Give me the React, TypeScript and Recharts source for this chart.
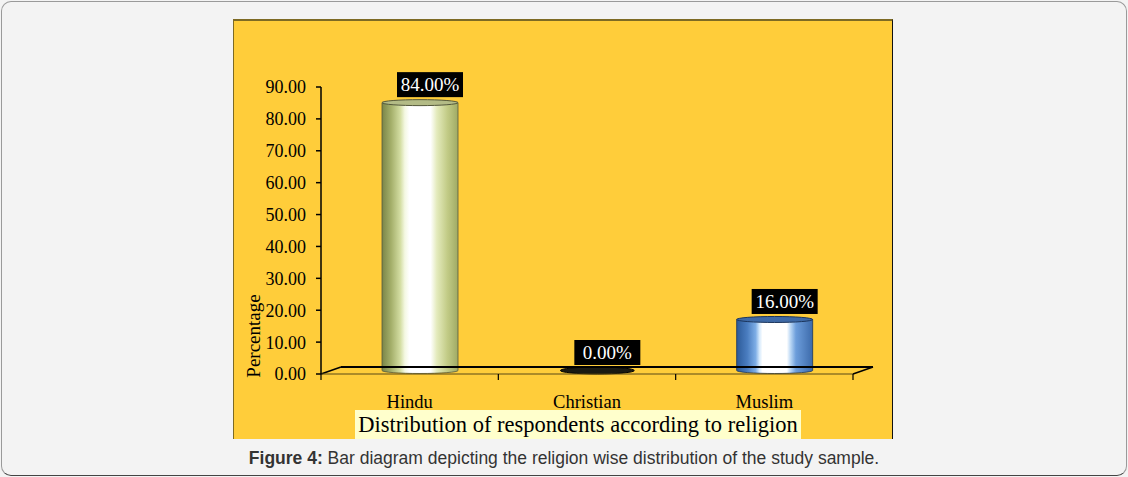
import React from 'react';
import { BarChart, Bar, XAxis, YAxis, ReferenceLine, LabelList } from 'recharts';

const categories: string[] = ['Hindu', 'Christian', 'Muslim'];
const percentages: number[] = [84, 0, 16];
const yTicks: number[] = [0, 10, 20, 30, 40, 50, 60, 70, 80, 90];
const yAxisTitle = 'Percentage';
const xAxisTitle = 'Distribution of respondents according to religion';
const captionBold = 'Figure 4:';
const captionText = ' Bar diagram depicting the religion wise distribution of the study sample.';

const data = categories.map((c, i) => ({ category: c, value: percentages[i] }));

const SERIF = '"Liberation Serif", "Times New Roman", serif';
const DX = 20;
const DY = 7;

type Stop = [number, string];
const barStyles: { stops: Stop[]; top: string; rim: string }[] = [
  {
    stops: [
      [0, '#7a8548'],
      [0.12, '#a4af6a'],
      [0.24, '#d3dda2'],
      [0.3, '#f4f8e2'],
      [0.36, '#ffffff'],
      [0.64, '#ffffff'],
      [0.72, '#e4ebbd'],
      [0.86, '#c2cb86'],
      [1, '#a0aa64'],
    ],
    top: '#b3bb86',
    rim: '#55593c',
  },
  {
    stops: [
      [0, '#222'],
      [1, '#222'],
    ],
    top: '#1a1a12',
    rim: '#000',
  },
  {
    stops: [
      [0, '#2c5a98'],
      [0.14, '#4a7dc0'],
      [0.25, '#7eaee6'],
      [0.3, '#d6eafc'],
      [0.34, '#ffffff'],
      [0.66, '#ffffff'],
      [0.71, '#b9d6f4'],
      [0.78, '#6c9ddb'],
      [1, '#3c6aaa'],
    ],
    top: '#3f6aa6',
    rim: '#1b355c',
  },
];

function Cylinder(props: any) {
  const { x, y, width, height, payload } = props;
  const idx = Math.max(0, categories.indexOf(payload?.category));
  const s = barStyles[idx];
  const rx = width / 2;
  const ry = 3;
  const cx = x + width / 2 + DX / 2;
  const top = y - DY / 2;
  const bottom = y + height - DY / 2;
  const gid = `cyl-grad-${idx}`;
  if (height < 1) {
    return (
      <ellipse cx={cx} cy={bottom} rx={rx - 1} ry={ry + 0.5} fill={s.top} stroke={s.rim} strokeWidth={1} />
    );
  }
  return (
    <g>
      <defs>
        <linearGradient id={gid} x1="0" y1="0" x2="1" y2="0">
          {s.stops.map(([o, c], i) => (
            <stop key={i} offset={o} stopColor={c} />
          ))}
        </linearGradient>
      </defs>
      <path
        d={`M${cx - rx},${top} L${cx - rx},${bottom} A${rx},${ry} 0 0 0 ${cx + rx},${bottom} L${cx + rx},${top} Z`}
        fill={`url(#${gid})`}
        stroke={s.rim}
        strokeWidth={0.8}
      />
      <ellipse cx={cx} cy={top} rx={rx} ry={ry} fill={s.top} stroke={s.rim} strokeWidth={1} />
    </g>
  );
}

function ValueLabel(props: any) {
  const vb = props.viewBox && props.viewBox.width !== undefined ? props.viewBox : props;
  const { x, y, width } = vb;
  const value = Number(props.value);
  const cx = x + width / 2 + DX;
  const bw = 66;
  const bh = 25;
  const bottom = y - 9;
  return (
    <g>
      <rect x={cx - bw / 2} y={bottom - bh} width={bw} height={bh} fill="#000" />
      <text
        x={cx}
        y={bottom - bh / 2}
        dy="0.35em"
        textAnchor="middle"
        fill="#fff"
        fontSize={19}
        fontFamily={SERIF}
      >
        {value.toFixed(2)}%
      </text>
    </g>
  );
}

function Floor(props: any) {
  const { x1, y1, x2 } = props;
  const n = categories.length;
  const ticks = Array.from({ length: n + 1 }, (_, i) => x1 + (i * (x2 - x1)) / n);
  return (
    <g>
      <line x1={x1 + DX} y1={y1 - DY} x2={x2 + DX} y2={y1 - DY} stroke="#000" strokeWidth={2} />
      <line x1={x1} y1={y1} x2={x1 + DX} y2={y1 - DY} stroke="#000" strokeWidth={1.5} />
      <line x1={x2} y1={y1} x2={x2 + DX} y2={y1 - DY} stroke="#000" strokeWidth={1.5} />
      <line x1={x1} y1={y1} x2={x2} y2={y1} stroke="#5a4a16" strokeWidth={1.2} />
      {ticks.map((tx, i) => (
        <line key={i} x1={tx} y1={y1} x2={tx} y2={y1 + 6} stroke="#000" strokeWidth={1.2} />
      ))}
    </g>
  );
}

function YTitle(props: any) {
  const vb = props.viewBox;
  const x = vb.x + 27;
  const y = vb.y + vb.height - 38;
  return (
    <text
      x={x}
      y={y}
      transform={`rotate(-90, ${x}, ${y})`}
      textAnchor="middle"
      fontSize={19}
      fontFamily={SERIF}
      fill="#000"
    >
      {yAxisTitle}
    </text>
  );
}

function XTitle(props: any) {
  const vb = props.viewBox;
  const cx = vb.x + vb.width / 2 - 9;
  const bw = 446;
  return (
    <g>
      <rect x={cx - bw / 2} y={vb.y + 36} width={bw} height={29} fill="#ffffcc" />
      <text x={cx} y={vb.y + 58} textAnchor="middle" fontSize={22.5} fontFamily={SERIF} fill="#000">
        {xAxisTitle}
      </text>
    </g>
  );
}

export default function App() {
  return (
    <div
      style={{
        position: 'absolute',
        left: 0,
        top: 0,
        width: 1128,
        height: 477,
        background: '#f3f3f3',
        overflow: 'hidden',
      }}
    >
      <div
        style={{
          position: 'absolute',
          left: 1,
          top: 1,
          width: 1126,
          height: 475,
          boxSizing: 'border-box',
          border: '1px solid #9a9a9a',
          borderBottom: '1px solid #444',
          borderRadius: 10,
        }}
      />
      <div
        style={{
          position: 'absolute',
          left: 233,
          top: 19,
          width: 660,
          height: 420,
          boxSizing: 'border-box',
          background: '#ffcd3a',
          borderTop: '2px solid #7d6a24',
          borderLeft: '1px solid #7d6a24',
          borderRight: '1px solid #111',
        }}
      />
      <div style={{ position: 'absolute', left: 233, top: 19 }}>
        <BarChart
          width={660}
          height={420}
          data={data}
          margin={{ top: 68, right: 40, bottom: 0, left: 0 }}
        >
          <ReferenceLine y={0} ifOverflow="visible" shape={<Floor />} />
          <XAxis
            dataKey="category"
            height={65}
            axisLine={false}
            tickLine={false}
            tickMargin={15}
            tick={{ fill: '#000', fontSize: 18.5, fontFamily: SERIF }}
            interval={0}
            label={<XTitle />}
          />
          <YAxis
            width={88}
            domain={[0, 90]}
            ticks={yTicks}
            interval={0}
            tickFormatter={(v: number) => v.toFixed(2)}
            axisLine={{ stroke: '#000', strokeWidth: 1.5 }}
            tickLine={{ stroke: '#000', strokeWidth: 1.5 }}
            tickSize={5}
            tickMargin={10}
            tick={{ fill: '#000', fontSize: 18, fontFamily: SERIF }}
            label={<YTitle />}
          />
          <Bar dataKey="value" barSize={76} isAnimationActive={false} shape={<Cylinder />}>
            <LabelList dataKey="value" content={<ValueLabel />} />
          </Bar>
        </BarChart>
      </div>
      <div
        style={{
          position: 'absolute',
          left: 0,
          top: 449,
          width: 1128,
          textAlign: 'center',
          fontFamily: '"Liberation Sans", Arial, sans-serif',
          fontSize: 17.5,
          lineHeight: '18px',
          color: '#333',
        }}
      >
        <b>{captionBold}</b>
        {captionText}
      </div>
    </div>
  );
}
